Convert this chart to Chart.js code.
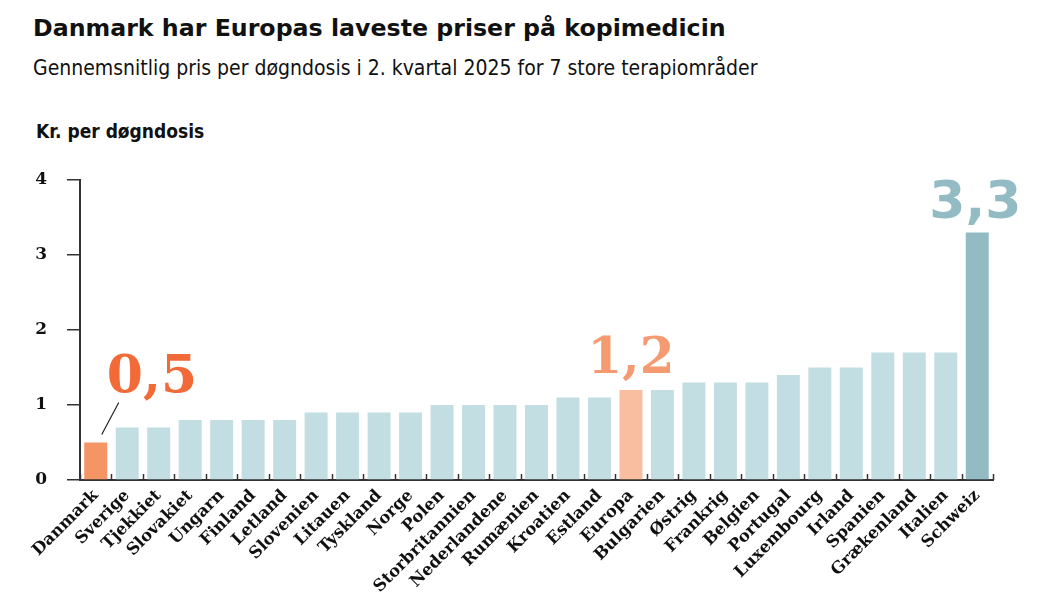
<!DOCTYPE html>
<html>
<head>
<meta charset="utf-8">
<script src="https://cdn.jsdelivr.net/npm/chart.js@4"></script>
<style>
  body { margin: 0; background: #fff; width: 1037px; height: 609px; position: relative; overflow: hidden; }
  #title { position: absolute; left: 33px; top: 14px; font: bold 23.7px "DejaVu Sans", sans-serif; color: #111; }
  #subtitle { position: absolute; left: 33px; top: 56px; font: 21px "DejaVu Sans Condensed", "DejaVu Sans", sans-serif; color: #111; }
  #unit { position: absolute; left: 36px; top: 120px; font: bold 19px "DejaVu Sans Condensed", "DejaVu Sans", sans-serif; color: #111; }
  #wrap { position: absolute; left: 0; top: 0; width: 1037px; height: 609px; }
</style>
</head>
<body>
<div id="title">Danmark har Europas laveste priser på kopimedicin</div>
<div id="subtitle">Gennemsnitlig pris per døgndosis i 2. kvartal 2025 for 7 store terapiområder</div>
<div id="unit">Kr. per døgndosis</div>
<div id="wrap"><canvas id="c" width="1037" height="609"></canvas></div>
<script>
const lande = ['Danmark', 'Sverige', 'Tjekkiet', 'Slovakiet', 'Ungarn', 'Finland', 'Letland',
  'Slovenien', 'Litauen', 'Tyskland', 'Norge', 'Polen', 'Storbritannien', 'Nederlandene',
  'Rumænien', 'Kroatien', 'Estland', 'Europa', 'Bulgarien', 'Østrig', 'Frankrig', 'Belgien',
  'Portugal', 'Luxembourg', 'Irland', 'Spanien', 'Grækenland', 'Italien', 'Schweiz'];
const pris = [0.5, 0.7, 0.7, 0.8, 0.8, 0.8, 0.8, 0.9, 0.9, 0.9, 0.9, 1.0, 1.0, 1.0,
  1.0, 1.1, 1.1, 1.2, 1.2, 1.3, 1.3, 1.3, 1.4, 1.5, 1.5, 1.7, 1.7, 1.7, 3.3];
const yTicks = [0, 1, 2, 3, 4];

const farver = lande.map(l => {
  if (l === 'Danmark') return '#F59565';
  if (l === 'Europa') return '#F9BE9F';
  if (l === 'Schweiz') return '#92BBC4';
  return '#C3DEE2';
});

// små streger op fra x-aksen mellem søjlerne
const tickPlugin = {
  id: 'upTicks',
  afterDraw(chart) {
    const ctx = chart.ctx;
    const x = chart.scales.x;
    const bund = chart.chartArea.bottom;
    const bredde = x.getPixelForValue(1) - x.getPixelForValue(0);
    ctx.save();
    ctx.strokeStyle = '#333';
    ctx.lineWidth = 1.5;
    for (let i = 0; i <= lande.length; i++) {
      const px = i < lande.length ? x.getPixelForValue(i) - bredde / 2 : x.right;
      ctx.beginPath();
      ctx.moveTo(Math.round(px) + 0.5, bund);
      ctx.lineTo(Math.round(px) + 0.5, bund - 6);
      ctx.stroke();
    }
    ctx.restore();
  }
};

// store tal over udvalgte søjler
const labelPlugin = {
  id: 'bigLabels',
  afterDatasetsDraw(chart) {
    const ctx = chart.ctx;
    const meta = chart.getDatasetMeta(0);
    const fmt = v => v.toFixed(1).replace('.', ',');
    ctx.save();
    ctx.textBaseline = 'alphabetic';
    // Danmark
    let i = lande.indexOf('Danmark');
    let bar = meta.data[i];
    ctx.strokeStyle = '#222';
    ctx.lineWidth = 1.2;
    ctx.beginPath();
    ctx.moveTo(bar.x + 6, bar.y - 8);
    ctx.lineTo(bar.x + 23, bar.y - 40);
    ctx.stroke();
    ctx.fillStyle = '#F26A38';
    ctx.font = 'bold 52px "DejaVu Serif", serif';
    ctx.textAlign = 'left';
    ctx.fillText(fmt(pris[i]), bar.x + 11, bar.y - 51);
    // Europa
    i = lande.indexOf('Europa');
    bar = meta.data[i];
    ctx.fillStyle = '#F59B72';
    ctx.font = 'bold 50px "DejaVu Serif", serif';
    ctx.textAlign = 'center';
    ctx.fillText(fmt(pris[i]), bar.x, bar.y - 17);
    // Schweiz
    i = lande.indexOf('Schweiz');
    bar = meta.data[i];
    ctx.fillStyle = '#92BBC4';
    ctx.font = 'bold 52px "DejaVu Sans", sans-serif';
    ctx.textAlign = 'center';
    ctx.fillText(fmt(pris[i]), bar.x - 2, bar.y - 15);
    ctx.restore();
  }
};

new Chart(document.getElementById('c'), {
  type: 'bar',
  data: {
    labels: lande,
    datasets: [{
      data: pris,
      backgroundColor: farver,
      borderWidth: 0,
      barPercentage: 0.73,
      categoryPercentage: 1
    }]
  },
  options: {
    responsive: false,
    animation: false,
    layout: { padding: { top: 180, right: 44, left: 0, bottom: 0 } },
    plugins: { legend: { display: false }, tooltip: { enabled: false } },
    scales: {
      y: {
        min: 0, max: 4,
        afterBuildTicks: s => { s.ticks = yTicks.map(v => ({ value: v })); },
        afterFit: s => { s.width = 80; },
        border: { display: true, color: '#333', width: 2 },
        grid: { drawOnChartArea: false, tickLength: 13, color: '#333', lineWidth: 1.5 },
        ticks: {
          padding: 20, color: '#111',
          font: { family: '"DejaVu Serif", serif', weight: 'bold', size: 17 }
        }
      },
      x: {
        afterFit: s => { s.height = 129; },
        border: { display: true, color: '#333', width: 2 },
        grid: { drawOnChartArea: false, drawTicks: false },
        ticks: {
          autoSkip: false, maxRotation: 45, minRotation: 45, padding: 6, color: '#111',
          font: { family: '"DejaVu Serif", serif', weight: 'bold', size: 16.5 }
        }
      }
    }
  },
  plugins: [labelPlugin, tickPlugin]
});
</script>
</body>
</html>
